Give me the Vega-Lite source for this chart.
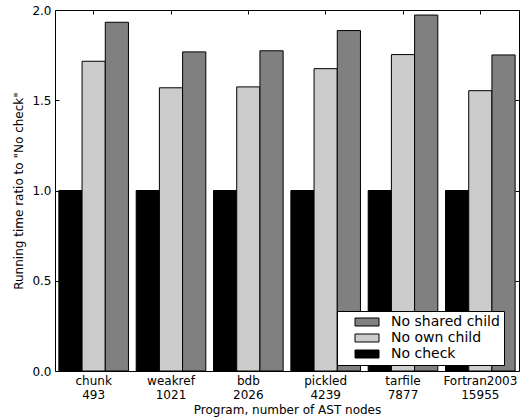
{
  "$schema": "https://vega.github.io/schema/vega-lite/v6.json",
  "width": 464,
  "height": 361,
  "autosize": {"type": "none"},
  "padding": {"left": 55, "top": 10, "right": 3, "bottom": 48},
  "config": {
    "font": "DejaVu Sans",
    "view": {"stroke": "black", "strokeWidth": 1},
    "axis": {"labelFont": "DejaVu Sans", "titleFont": "DejaVu Sans", "labelColor": "black", "titleColor": "black", "tickColor": "black", "titleFontWeight": "normal", "grid": false, "domain": false}
  },
  "data": {
    "values": [
      {"program": "chunk 493", "series": "No check", "ratio": 1.0},
      {"program": "chunk 493", "series": "No own child", "ratio": 1.716},
      {"program": "chunk 493", "series": "No shared child", "ratio": 1.932},
      {"program": "weakref 1021", "series": "No check", "ratio": 1.0},
      {"program": "weakref 1021", "series": "No own child", "ratio": 1.569},
      {"program": "weakref 1021", "series": "No shared child", "ratio": 1.768},
      {"program": "bdb 2026", "series": "No check", "ratio": 1.0},
      {"program": "bdb 2026", "series": "No own child", "ratio": 1.574},
      {"program": "bdb 2026", "series": "No shared child", "ratio": 1.774},
      {"program": "pickled 4239", "series": "No check", "ratio": 1.0},
      {"program": "pickled 4239", "series": "No own child", "ratio": 1.675},
      {"program": "pickled 4239", "series": "No shared child", "ratio": 1.886},
      {"program": "tarfile 7877", "series": "No check", "ratio": 1.0},
      {"program": "tarfile 7877", "series": "No own child", "ratio": 1.753},
      {"program": "tarfile 7877", "series": "No shared child", "ratio": 1.972},
      {"program": "Fortran2003 15955", "series": "No check", "ratio": 1.0},
      {"program": "Fortran2003 15955", "series": "No own child", "ratio": 1.553},
      {"program": "Fortran2003 15955", "series": "No shared child", "ratio": 1.751}
    ]
  },
  "layer": [
    {
      "mark": {"type": "bar", "stroke": "black", "strokeWidth": 1},
      "encoding": {
        "x": {
          "field": "program", "type": "nominal", "sort": null,
          "scale": {"paddingInner": 0.1, "paddingOuter": 0.05},
          "axis": {"orient": "bottom", "labelAngle": 0, "labelFontSize": 12, "labelLineHeight": 14, "labelExpr": "split(datum.label, ' ')", "tickSize": -4, "labelPadding": 8, "title": "Program, number of AST nodes", "titleFontSize": 12, "titlePadding": 4}
        },
        "xOffset": {"field": "series", "type": "nominal", "sort": ["No check", "No own child", "No shared child"]},
        "y": {
          "field": "ratio", "type": "quantitative",
          "scale": {"domain": [0, 2], "nice": false},
          "axis": {"values": [0, 0.5, 1, 1.5, 2], "format": ".1f", "labelFontSize": 12, "tickSize": -4, "labelPadding": 8, "title": "Running time ratio to \"No check\"", "titleFontSize": 12, "titlePadding": 6}
        },
        "color": {
          "field": "series", "type": "nominal",
          "scale": {"domain": ["No shared child", "No own child", "No check"], "range": ["#808080", "#cccccc", "#000000"]},
          "legend": {"orient": "none", "legendX": 282, "legendY": 301, "title": null, "padding": 4, "strokeColor": "black", "fillColor": "white", "cornerRadius": 0, "symbolType": "M-3,-1H3V1H-3Z", "symbolSize": 64, "symbolStrokeColor": "black", "symbolStrokeWidth": 1, "symbolOffset": 19, "labelFontSize": 14, "labelFont": "DejaVu Sans", "labelColor": "black", "labelOffset": 17, "rowPadding": 2, "labelLimit": 200}
        }
      }
    },
    {
      "mark": {"type": "bar", "opacity": 0},
      "encoding": {
        "x": {"field": "program", "type": "nominal", "sort": null, "axis": {"orient": "top", "labels": false, "title": null, "tickSize": -4}},
        "y": {"field": "ratio", "type": "quantitative", "axis": {"orient": "right", "values": [0, 0.5, 1, 1.5, 2], "labels": false, "title": null, "tickSize": -4}}
      }
    }
  ],
  "resolve": {"axis": {"x": "independent", "y": "independent"}}
}
